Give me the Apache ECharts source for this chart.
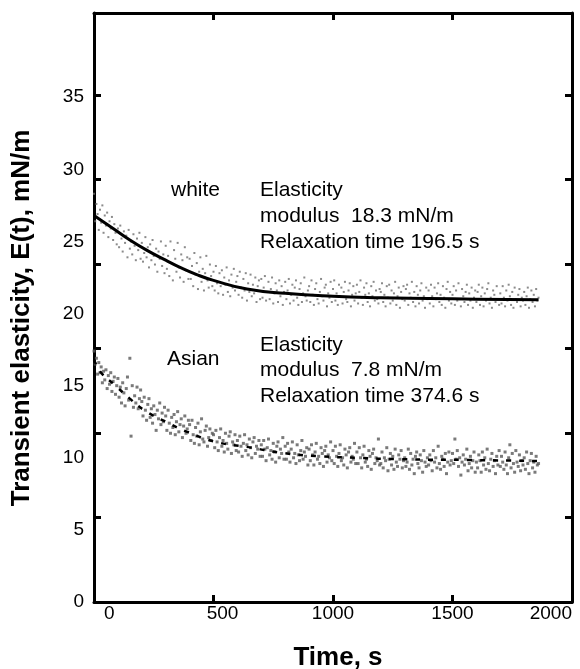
<!DOCTYPE html>
<html>
<head>
<meta charset="utf-8">
<script src="https://cdn.jsdelivr.net/npm/echarts@6/dist/echarts.min.js"></script>
<style>
  html, body { margin: 0; padding: 0; background: #fff; }
  #chart { width: 580px; height: 669px; }
</style>
</head>
<body>
<div id="chart"></div>
<script>
/* sampling step of the measured points, s */
var STEP = 5;

/* measured transient elasticity, white subjects (mN/m), one value per STEP s */
var whiteValues = [
  28.3, 26.4, 27.6, 26.9, 25.8, 27.2, 26.3, 27.5, 25.6, 26.8, 26.1, 27.0, 25.3, 26.4, 25.9, 26.7, 25.1, 26.2, 25.6, 24.8,
  25.9, 24.6, 26.1, 25.2, 24.3, 25.7, 24.9, 25.4, 23.9, 25.8, 24.5, 25.0, 24.1, 25.5, 24.7, 23.7, 25.2, 24.4, 25.6, 23.8,
  24.9, 23.6, 24.2, 25.3, 23.9, 24.6, 23.2, 24.8, 23.7, 25.1, 24.0, 23.4, 24.5, 22.9, 24.3, 23.8, 25.0, 23.3, 24.1, 22.8,
  24.7, 23.1, 24.0, 22.6, 25.0, 23.5, 22.3, 24.4, 23.8, 22.9, 24.9, 23.2, 22.5, 24.1, 23.7, 22.2, 24.6, 23.0, 23.9, 22.4,
  23.8, 22.4, 23.3, 21.9, 24.2, 22.7, 23.5, 21.7, 22.9, 23.9, 22.2, 23.1, 21.6, 22.8, 24.0, 22.3, 21.8, 23.4, 22.6, 21.9,
  22.9, 21.6, 23.3, 22.1, 21.4, 22.8, 21.9, 23.0, 21.3, 22.5, 22.0, 23.2, 21.5, 22.3, 21.2, 22.7, 21.8, 23.1, 21.6, 22.2,
  22.6, 21.3, 22.9, 21.8, 21.1, 22.4, 21.6, 22.8, 20.9, 22.1, 21.5, 22.7, 21.2, 22.0, 21.4, 22.5, 20.8, 21.9, 22.3, 21.0,
  22.4, 21.1, 21.8, 22.6, 20.9, 21.5, 22.2, 21.0, 21.7, 22.5, 20.7, 21.4, 22.1, 21.6, 20.8, 22.3, 21.2, 21.9, 20.6, 21.5,
  22.2, 21.0, 21.6, 22.4, 20.7, 21.3, 22.0, 20.9, 21.8, 22.3, 21.1, 20.6, 21.7, 22.1, 20.8, 21.4, 22.5, 21.2, 20.9, 21.6,
  21.9, 20.8, 22.3, 21.3, 20.6, 21.7, 22.1, 21.0, 20.7, 21.5, 22.4, 21.2, 20.9, 21.8, 22.0, 20.5, 21.4, 21.1, 22.2, 20.8,
  21.7, 22.3, 20.9, 21.4, 20.6, 22.0, 21.2, 21.8, 20.7, 21.5, 22.2, 21.0, 20.8, 21.6, 22.1, 20.5, 21.3, 21.9, 20.9, 21.4,
  22.0, 20.7, 21.5, 22.3, 21.1, 20.6, 21.8, 21.3, 22.1, 20.8, 21.4, 20.5, 21.9, 21.2, 22.2, 20.9, 21.6, 21.0, 20.7, 21.7,
  21.5, 22.1, 20.8, 21.3, 20.5, 21.9, 21.1, 22.0, 20.7, 21.6, 20.9, 21.4, 22.2, 20.6, 21.2, 21.8, 20.4, 21.5, 21.0, 21.9,
  20.9, 21.7, 22.0, 20.6, 21.4, 21.1, 22.2, 20.8, 21.5, 20.5, 21.9, 21.3, 20.7, 21.6, 22.1, 20.9, 21.2, 20.4, 21.8, 21.0,
  21.6, 20.7, 22.0, 21.2, 20.5, 21.8, 21.0, 21.4, 22.1, 20.8, 21.3, 20.6, 21.9, 21.1, 20.4, 21.7, 22.2, 20.9, 21.5, 20.7,
  21.3, 21.9, 20.6, 21.6, 20.9, 22.1, 21.0, 20.5, 21.7, 21.2, 20.8, 21.5, 22.0, 20.6, 21.4, 20.9, 21.8, 20.4, 21.1, 21.6,
  20.8, 21.5, 22.0, 20.6, 21.2, 21.8, 20.5, 21.4, 20.9, 21.7, 22.1, 20.7, 21.1, 20.4, 21.6, 21.3, 20.8, 21.9, 21.0, 20.6,
  21.4, 20.7, 21.9, 21.1, 20.5, 21.6, 20.9, 22.0, 21.2, 20.6, 21.5, 20.4, 21.8, 21.0, 20.8, 21.3, 21.7, 20.5, 21.1, 20.9,
  21.5, 20.6, 21.2, 21.8, 20.4, 21.0, 21.6, 20.8, 21.3, 20.5, 21.7, 20.9, 21.1
];

/* measured transient elasticity, Asian subjects (mN/m), one value per STEP s */
var asianValues = [
  17.4, 16.5, 16.9, 15.8, 16.6, 15.9, 16.3, 15.2, 16.0, 15.4, 16.1, 14.8, 15.7, 15.1, 15.9, 14.6, 15.3, 15.6, 14.4, 15.0,
  15.5, 14.2, 14.9, 13.8, 15.2, 14.5, 13.6, 14.8, 15.6, 14.0, 16.9, 11.5, 15.0, 13.5, 14.3, 13.8, 14.9, 13.4, 14.1, 14.7,
  13.9, 12.9, 14.2, 13.3, 12.6, 13.7, 14.1, 12.8, 13.4, 12.4, 13.6, 13.0, 11.9, 13.3, 12.7, 13.8, 12.3, 13.1, 12.5, 13.5,
  12.9, 11.9, 13.3, 12.4, 11.7, 12.8, 12.1, 13.0, 11.6, 12.5, 13.2, 11.8, 12.3, 12.7, 11.4, 12.2, 12.9, 11.7, 12.0, 12.6,
  12.3, 11.2, 12.6, 11.6, 11.0, 12.1, 11.5, 12.4, 10.9, 11.8, 12.7, 11.3, 11.1, 11.9, 12.2, 10.8, 11.4, 12.0, 11.2, 11.7,
  11.6, 10.7, 11.9, 11.1, 10.5, 11.4, 12.0, 10.8, 11.2, 10.4, 11.7, 11.0, 10.6, 11.5, 11.8, 10.3, 11.1, 10.9, 11.6, 10.5,
  11.2, 10.4, 11.5, 10.8, 10.1, 11.0, 11.6, 10.5, 10.9, 10.2, 11.3, 10.7, 10.0, 11.1, 11.4, 10.3, 10.8, 10.6, 11.2, 10.1,
  10.9, 10.1, 11.2, 10.6, 9.8, 10.7, 11.3, 10.2, 10.5, 9.9, 11.0, 10.4, 9.7, 10.8, 11.1, 10.0, 10.6, 10.3, 11.4, 9.9,
  10.8, 9.9, 11.0, 10.4, 9.7, 10.6, 11.1, 10.0, 10.3, 9.6, 10.9, 10.2, 9.8, 10.5, 11.2, 9.9, 10.4, 10.1, 10.7, 9.5,
  10.6, 9.8, 10.9, 10.2, 9.5, 10.4, 11.0, 9.9, 10.1, 9.6, 10.7, 10.3, 9.4, 10.5, 10.8, 9.7, 10.2, 10.0, 11.1, 9.8,
  10.5, 9.6, 10.8, 10.1, 9.4, 10.3, 10.9, 9.8, 10.0, 9.5, 10.6, 10.2, 9.3, 10.4, 10.7, 9.7, 10.1, 9.9, 11.0, 9.6,
  10.4, 9.6, 10.7, 10.0, 9.3, 10.2, 10.8, 9.7, 9.9, 9.4, 10.5, 10.1, 9.2, 10.3, 10.6, 9.6, 10.0, 9.8, 11.3, 9.5,
  9.6, 10.4, 9.3, 10.0, 9.8, 10.7, 9.1, 9.9, 10.3, 9.5, 10.1, 9.2, 10.6, 9.7, 9.4, 10.2, 9.9, 10.5, 9.3, 9.8,
  10.0, 9.4, 9.7, 10.6, 9.2, 10.3, 9.5, 9.9, 8.9, 10.1, 10.4, 9.6, 9.3, 10.2, 9.8, 9.0, 10.5, 9.7, 9.4, 10.0,
  9.5, 10.2, 9.8, 9.1, 10.5, 9.7, 10.0, 9.3, 10.8, 9.6, 9.2, 10.1, 9.9, 9.4, 10.3, 8.9, 9.7, 10.4, 9.5, 9.8,
  10.3, 9.6, 11.3, 9.9, 10.5, 9.4, 10.0, 8.8, 9.7, 10.2, 9.5, 9.9, 10.6, 9.1, 9.6, 10.1, 9.3, 9.8, 10.4, 9.0,
  9.7, 9.3, 10.2, 9.8, 9.0, 10.4, 9.5, 10.0, 9.2, 10.6, 9.6, 9.1, 9.9, 10.3, 9.4, 9.8, 8.9, 10.1, 9.5, 10.5,
  9.4, 10.1, 9.7, 9.2, 10.4, 9.5, 8.9, 10.0, 10.9, 9.3, 10.3, 9.6, 9.0, 10.5, 9.7, 9.4, 10.2, 9.1, 9.8, 9.5,
  10.0, 9.2, 10.4, 9.6, 8.9, 9.8, 10.3, 9.3, 9.7, 9.0, 10.1, 9.5, 9.6
];

/* fitted relaxation curves */
var whiteFitTimes = [0, 80, 150, 220, 300, 360, 430, 500, 640, 800, 1000, 1200, 1400, 1600, 1860];
var whiteFitValues = [26.8, 25.9, 25.1, 24.4, 23.7, 23.2, 22.7, 22.3, 21.7, 21.4, 21.2, 21.1, 21.05, 21.0, 20.95];
var asianFitTimes = [0, 30, 90, 150, 210, 300, 390, 510, 660, 780, 950, 1100, 1280, 1560, 1860];
var asianFitValues = [16.8, 15.9, 15.0, 14.1, 13.3, 12.5, 11.8, 11.1, 10.7, 10.35, 10.1, 10.0, 9.9, 9.85, 9.77];

var xTicks = [0, 500, 1000, 1500, 2000];
var yTickLabels = [0, 5, 10, 15, 20, 25, 30, 35];

var notes = [
  { text: 'white', x: 171, y: 197 },
  { text: 'Elasticity', x: 260, y: 197 },
  { text: 'modulus  18.3 mN/m', x: 260, y: 223 },
  { text: 'Relaxation time 196.5 s', x: 260, y: 248.5 },
  { text: 'Asian', x: 167, y: 366 },
  { text: 'Elasticity', x: 260, y: 352 },
  { text: 'modulus  7.8 mN/m', x: 260, y: 377 },
  { text: 'Relaxation time 374.6 s', x: 260, y: 402.5 }
];

var FONT = '"Liberation Sans", Arial, Helvetica, sans-serif';

function pairs(xs, ys) {
  var out = [];
  for (var i = 0; i < ys.length; i++) {
    out.push([xs[i], ys[i]]);
  }
  return out;
}

function sampled(values) {
  var out = [];
  for (var i = 0; i < values.length; i++) {
    out.push([i * STEP, values[i]]);
  }
  return out;
}

var chart = echarts.init(document.getElementById('chart'), null, { renderer: 'canvas' });

var frameLine = { show: true, onZero: false, lineStyle: { color: '#000', width: 3 } };
var innerTick = { show: true, inside: true, length: 7, lineStyle: { color: '#000', width: 3 } };

var option = {
  animation: false,
  backgroundColor: '#fff',
  grid: { left: 94, right: 8, top: 13, bottom: 67, containLabel: false, outerBoundsMode: 'none' },
  xAxis: [
    {
      type: 'value',
      position: 'bottom',
      min: 0,
      max: 2000,
      interval: 500,
      axisLine: frameLine,
      axisTick: innerTick,
      splitLine: { show: false },
      axisLabel: {
        color: '#000',
        fontSize: 19,
        fontFamily: FONT,
        margin: 2,
        alignMinLabel: 'left',
        alignMaxLabel: 'right',
        formatter: function (v) {
          if (xTicks.indexOf(v) < 0) return '';
          if (v === 0) return '{a|0}';
          if (v === 500) return '{b|500}';
          return String(v);
        },
        rich: {
          a: { fontSize: 19, fontFamily: FONT, color: '#000', padding: [0, 0, 0, 10] },
          b: { fontSize: 19, fontFamily: FONT, color: '#000', padding: [0, 0, 0, 18] }
        }
      },
      name: 'Time, s',
      nameLocation: 'middle',
      nameGap: 43,
      nameTextStyle: {
        color: '#000',
        fontSize: 26,
        fontWeight: 'bold',
        fontFamily: FONT,
        padding: [0, 0, 0, 10]
      }
    },
    {
      type: 'value',
      position: 'top',
      min: 0,
      max: 2000,
      interval: 500,
      axisLine: frameLine,
      axisTick: innerTick,
      axisLabel: { show: false },
      splitLine: { show: false }
    }
  ],
  yAxis: [
    {
      type: 'value',
      position: 'left',
      min: 0,
      max: 40.84,
      interval: 5,
      axisLine: frameLine,
      axisTick: { show: false },
      splitLine: { show: false },
      axisLabel: {
        color: '#000',
        fontSize: 19,
        fontFamily: FONT,
        margin: 10,
        formatter: function (v) {
          return yTickLabels.indexOf(v) >= 0 ? String(v) : '';
        }
      },
      name: 'Transient elasticity, E(t), mN/m',
      nameLocation: 'middle',
      nameRotate: 90,
      nameGap: 59,
      nameTextStyle: {
        color: '#000',
        fontSize: 26,
        fontWeight: 'bold',
        fontFamily: FONT,
        padding: [0, 21, 0, 0]
      }
    },
    {
      // tick marks on the right frame
      type: 'value',
      position: 'right',
      min: 0,
      max: 6.974,
      interval: 1,
      axisLine: frameLine,
      axisTick: innerTick,
      axisLabel: { show: false },
      splitLine: { show: false }
    },
    {
      // tick marks on the left frame
      type: 'value',
      position: 'left',
      min: 0,
      max: 6.974,
      interval: 1,
      axisLine: { show: false, onZero: false },
      axisTick: innerTick,
      axisLabel: { show: false },
      splitLine: { show: false }
    }
  ],
  series: [
    {
      name: 'white',
      type: 'scatter',
      data: sampled(whiteValues),
      symbol: 'rect',
      symbolSize: 2,
      itemStyle: { color: '#6e6e6e' },
      silent: true,
      z: 2
    },
    {
      name: 'Asian',
      type: 'scatter',
      data: sampled(asianValues),
      symbol: 'rect',
      symbolSize: 3,
      itemStyle: { color: '#595959' },
      silent: true,
      z: 2
    },
    {
      name: 'white fit',
      type: 'line',
      data: pairs(whiteFitTimes, whiteFitValues),
      smooth: true,
      showSymbol: false,
      lineStyle: { color: '#000', width: 3 },
      silent: true,
      z: 3
    },
    {
      name: 'Asian fit',
      type: 'line',
      data: pairs(asianFitTimes, asianFitValues),
      smooth: true,
      showSymbol: false,
      lineStyle: { color: '#000', width: 2.5, type: [5, 8] },
      silent: true,
      z: 3
    }
  ],
  graphic: notes.map(function (n) {
    return {
      type: 'text',
      left: n.x,
      top: n.y - 17,
      style: {
        text: n.text,
        fill: '#000',
        font: '21px ' + FONT
      },
      z: 10
    };
  })
};

chart.setOption(option);
</script>
</body>
</html>
